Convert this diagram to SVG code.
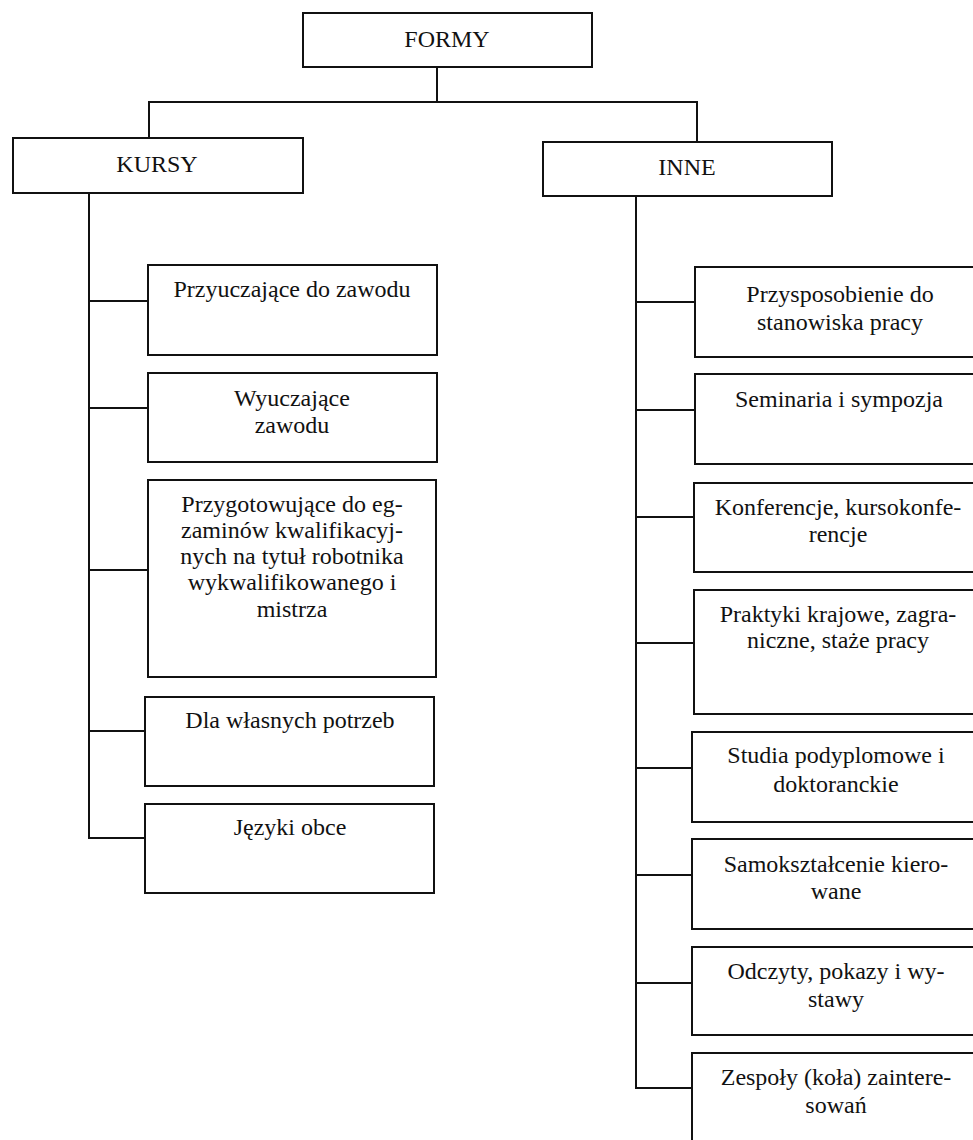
<svg xmlns="http://www.w3.org/2000/svg" width="973" height="1140" viewBox="0 0 973 1140">
<style>
.box{fill:#fff;stroke:#111;stroke-width:2}
.ln{fill:none;stroke:#111;stroke-width:2}
text{font-family:'Liberation Serif',Tinos,'Times New Roman',Times,'DejaVu Serif',serif;font-size:24px;fill:#111;text-anchor:middle}
</style>
<rect width="973" height="1140" fill="#fff"/>
<g id="connectors">
<path class="ln" d="M437,67 V102 M149,138 V102 H697 V142"/>
<path class="ln" d="M89,193 V838 H146 M89,301 H148 M89,408 H148 M89,570 H148 M89,731 H145"/>
<path class="ln" d="M636,196 V1088 H692 M636,302 H695 M636,410 H695 M636,517 H694 M636,643 H694 M636,768 H692 M636,875 H692 M636,983 H692"/>
</g>
<g id="formy"><rect class="box" x="303" y="13" width="289" height="54"/><text x="447" y="47">FORMY</text></g>
<g id="kursy"><rect class="box" x="13" y="138" width="290" height="55"/><text x="157" y="172">KURSY</text></g>
<g id="inne"><rect class="box" x="543" y="142" width="289" height="54"/><text x="687" y="175">INNE</text></g>
<g id="k1"><rect class="box" x="148" y="265" width="289" height="90"/><text x="292" y="297">Przyuczające do zawodu</text></g>
<g id="k2"><rect class="box" x="148" y="373" width="289" height="89"/><text x="292" y="406">Wyuczające</text><text x="292" y="433">zawodu</text></g>
<g id="k3"><rect class="box" x="148" y="480" width="288" height="197"/><text x="292" y="512">Przygotowujące do eg-</text><text x="292" y="538">zaminów kwalifikacyj-</text><text x="292" y="564">nych na tytuł robotnika</text><text x="292" y="590">wykwalifikowanego i</text><text x="292" y="617">mistrza</text></g>
<g id="k4"><rect class="box" x="145" y="697" width="289" height="89"/><text x="290" y="728">Dla własnych potrzeb</text></g>
<g id="k5"><rect class="box" x="145" y="804" width="289" height="89"/><text x="290" y="835">Języki obce</text></g>
<g id="i1"><rect class="box" x="695" y="267" width="300" height="90"/><text x="840" y="302">Przysposobienie do</text><text x="840" y="330">stanowiska pracy</text></g>
<g id="i2"><rect class="box" x="695" y="374" width="300" height="90"/><text x="839" y="407">Seminaria i sympozja</text></g>
<g id="i3"><rect class="box" x="694" y="483" width="300" height="89"/><text x="838" y="515">Konferencje, kursokonfe-</text><text x="838" y="542">rencje</text></g>
<g id="i4"><rect class="box" x="694" y="590" width="300" height="124"/><text x="838" y="622">Praktyki krajowe, zagra-</text><text x="838" y="648">niczne, staże pracy</text></g>
<g id="i5"><rect class="box" x="692" y="732" width="300" height="90"/><text x="836" y="763">Studia podyplomowe i</text><text x="836" y="792">doktoranckie</text></g>
<g id="i6"><rect class="box" x="692" y="839" width="300" height="90"/><text x="836" y="872">Samokształcenie kiero-</text><text x="836" y="899">wane</text></g>
<g id="i7"><rect class="box" x="692" y="947" width="300" height="88"/><text x="836" y="979">Odczyty, pokazy i wy-</text><text x="836" y="1007">stawy</text></g>
<g id="i8"><rect class="box" x="692" y="1053" width="300" height="110"/><text x="836" y="1085">Zespoły (koła) zaintere-</text><text x="836" y="1113">sowań</text></g>
</svg>
